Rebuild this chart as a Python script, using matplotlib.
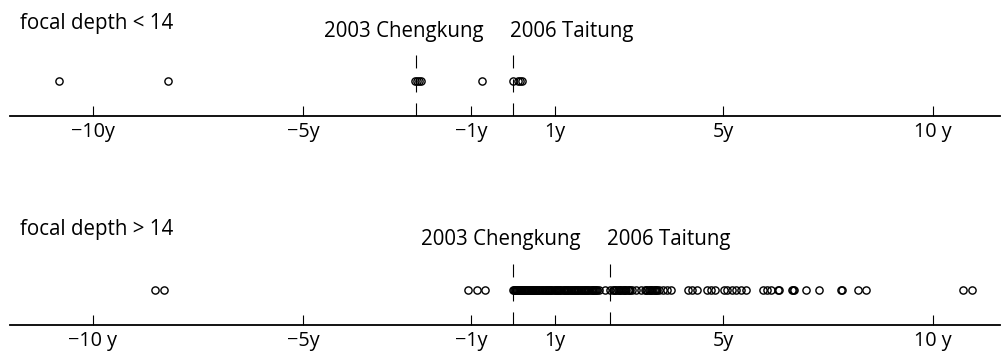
import matplotlib
matplotlib.use("Agg")
import matplotlib.pyplot as plt
import matplotlib.transforms as mtransforms

plt.rcParams['font.family'] = ['Open Sans', 'DejaVu Sans']
plt.rcParams['lines.scale_dashes'] = False

# event times in years (top: relative to 2006 Taitung, bottom: relative to 2003 Chengkung)
shallow_times = [-10.81, -8.21, -2.33, -2.29, -2.25, -2.20, -0.74,
                 0.00, 0.12, 0.17, 0.21]
deep_times = [-8.52, -8.31, -1.07, -0.86, -0.67,
              0.00, 0.02, 0.04, 0.06, 0.08, 0.10, 0.12, 0.14, 0.16, 0.18,
              0.20, 0.22, 0.25, 0.27, 0.29, 0.32, 0.34, 0.36, 0.39, 0.41,
              0.43, 0.46, 0.48, 0.50, 0.53, 0.55, 0.58, 0.60, 0.63, 0.65,
              0.68, 0.70, 0.73, 0.75, 0.78, 0.81, 0.83, 0.86, 0.89, 0.91,
              0.94, 0.97, 0.99, 1.02, 1.05, 1.07, 1.10, 1.13, 1.15, 1.18,
              1.21, 1.23, 1.26, 1.29, 1.31, 1.34, 1.37, 1.39, 1.42, 1.45,
              1.47, 1.50, 1.53, 1.55, 1.58, 1.61, 1.63, 1.66, 1.69, 1.71,
              1.74, 1.77, 1.79, 1.82, 1.85, 1.87, 1.90, 1.93, 1.95, 1.98,
              2.01, 2.04, 2.19, 2.31, 2.37, 2.40, 2.43, 2.46, 2.49, 2.52,
              2.55, 2.58, 2.61, 2.64, 2.67, 2.70, 2.73, 2.76, 2.79, 2.83,
              2.93, 3.05, 3.14, 3.17, 3.20, 3.23, 3.26, 3.29, 3.32, 3.35,
              3.38, 3.41, 3.44, 3.48, 3.57, 3.67, 3.76, 4.17, 4.26, 4.38,
              4.62, 4.71, 4.81, 5.02, 5.10, 5.21, 5.31, 5.43, 5.55, 5.95,
              6.05, 6.14, 6.31, 6.34, 6.65, 6.67, 6.69, 6.98, 7.29, 7.81,
              7.84, 8.21, 8.40, 10.71, 10.93]

quake_names = ["2003 Chengkung", "2006 Taitung"]
shallow_quakes = [-2.31, 0.0]
deep_quakes = [0.0, 2.31]

tick_pos = [-10, -5, -1, 1, 5, 10]
shallow_ticklabels = ["\u221210y", "\u22125y", "\u22121y", "1y", "5y", "10 y"]
deep_ticklabels = ["\u221210 y", "\u22125y", "\u22121y", "1y", "5y", "10 y"]

W, H = 1007, 352
fig = plt.figure(figsize=(W / 100, H / 100), dpi=100)

x0, x1 = 10, 1000      # pixel extent of the time axis
origin, ppy = 513, 42  # pixel of t=0, pixels per year
xlim = ((x0 - origin) / ppy, (x1 - origin) / ppy)
FS = 14.8


def panel(axis_y, top_y, times, quakes, ticklabels, title, title_y, label_y):
    ax = fig.add_axes([x0 / W, (H - axis_y) / H, (x1 - x0) / W, (axis_y - top_y) / H])
    ax.set_xlim(*xlim)
    ax.set_ylim(0, axis_y - top_y)
    for s in ['top', 'left', 'right']:
        ax.spines[s].set_visible(False)
    ax.spines['bottom'].set_linewidth(1.3)
    ax.set_yticks([])
    ax.set_xticks(tick_pos, ticklabels)
    ax.tick_params(axis='x', direction='in', length=7.5, width=0.8, pad=4,
                   labelsize=14.3)

    ax.plot(times, [35] * len(times), 'o', ms=5.2, mfc='none', mec='black',
            mew=1.0, ls='none', clip_on=False)

    for t, name, dx, ha in zip(quakes, quake_names, [-12, -3], ['center', 'left']):
        ax.plot([t, t], [0, 61], color='black', lw=0.8,
                ls=(0, (9.4, 7.9)), solid_capstyle='butt')
        ax.annotate(name, (t, label_y), xytext=(dx * 0.72, 0),
                    textcoords='offset points', ha=ha, va='center', fontsize=FS)

    trans = mtransforms.blended_transform_factory(ax.transAxes, ax.transData)
    ax.text(10 / (x1 - x0), title_y, title, transform=trans, ha='left',
            va='center', fontsize=FS)
    return ax


panel(116, 0, shallow_times, shallow_quakes, shallow_ticklabels,
      "focal depth < 14", 92, 84)
panel(325, 205, deep_times, deep_quakes, deep_ticklabels,
      "focal depth > 14", 96, 86)

fig.savefig("out.png", dpi=100)
